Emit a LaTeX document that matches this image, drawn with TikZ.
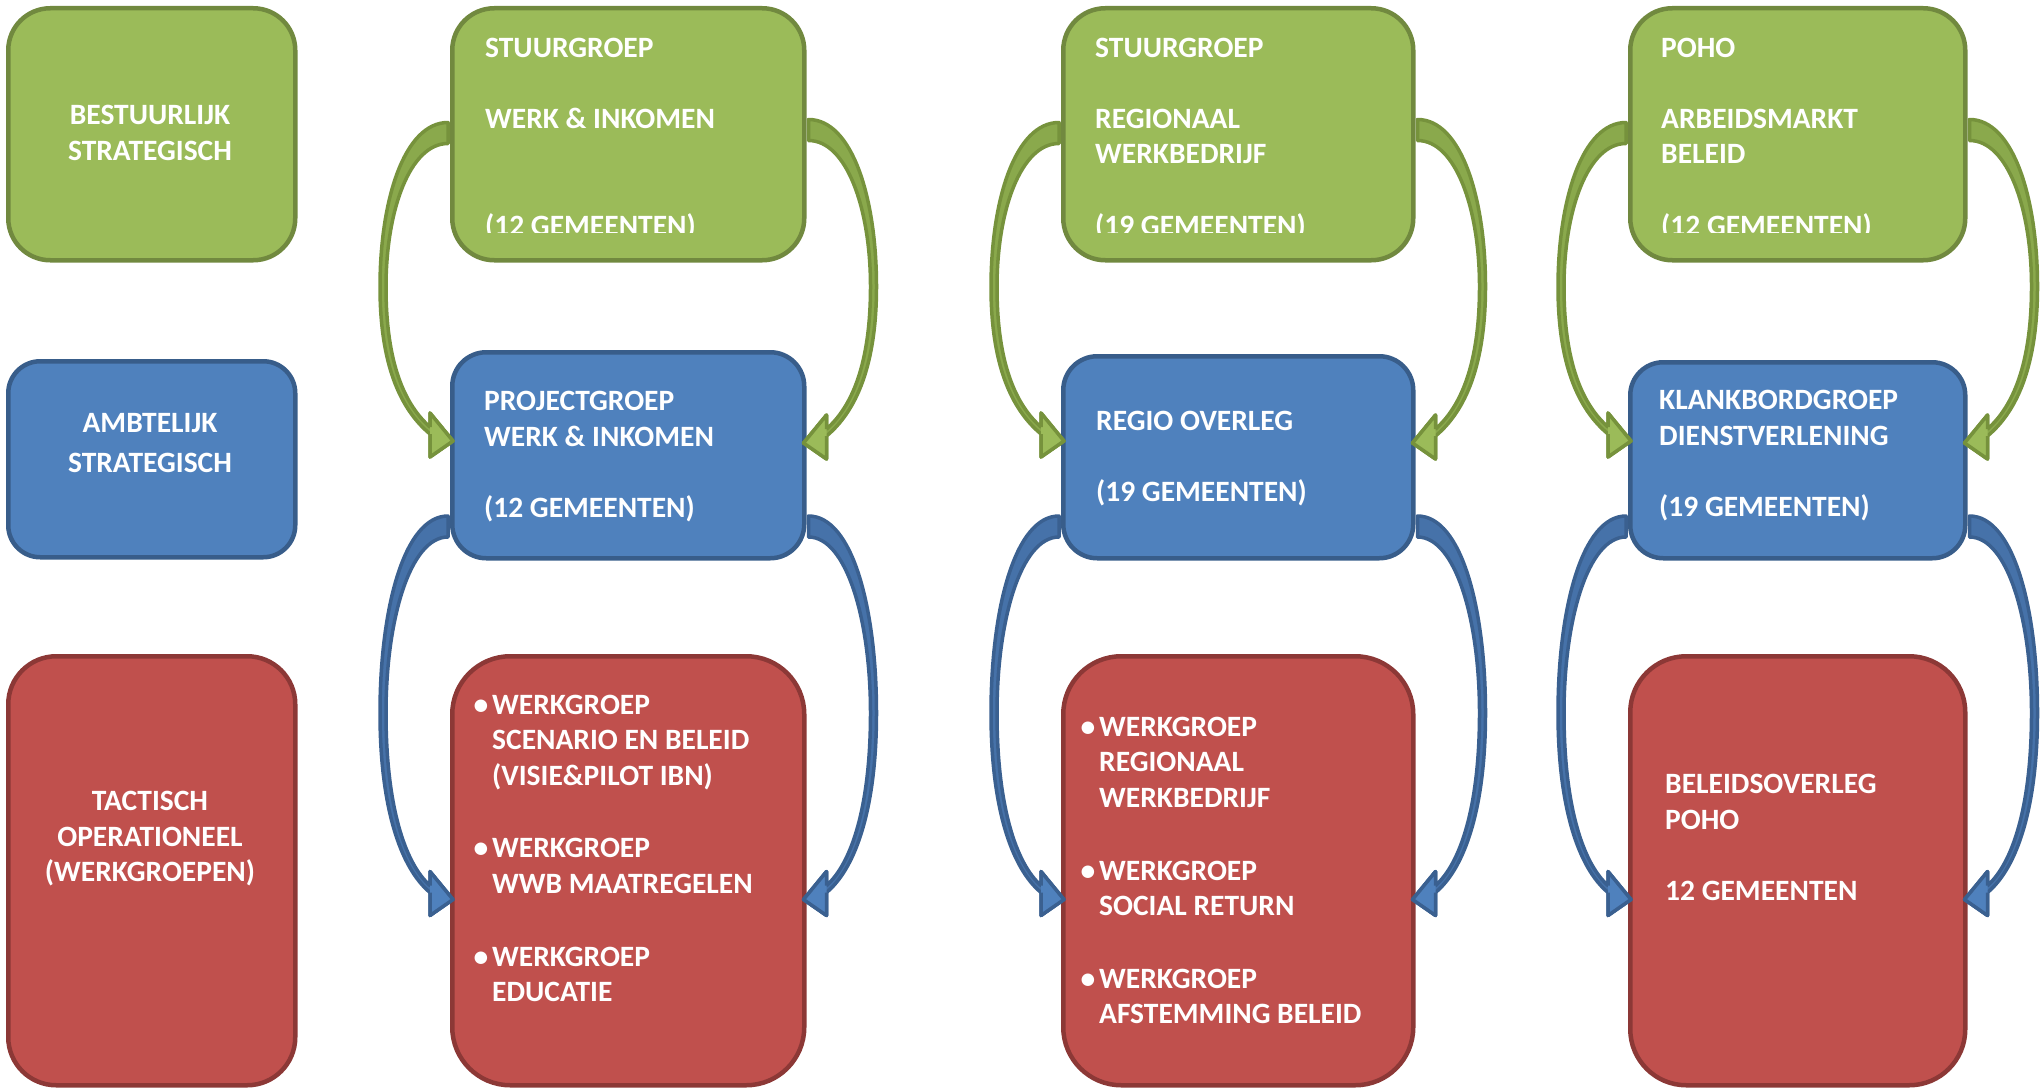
\documentclass[tikz,border=0pt]{standalone}
\usepackage{fontspec}
\setmainfont{Carlito}
\usetikzlibrary{calc}
\definecolor{gfill}{HTML}{9BBB59}
\definecolor{gline}{HTML}{71893F}
\definecolor{garr}{HTML}{76923C}
\definecolor{bfill}{HTML}{4F81BD}
\definecolor{bline}{HTML}{385D8A}
\definecolor{barr}{HTML}{3A6090}
\definecolor{rfill}{HTML}{C0504D}
\definecolor{rline}{HTML}{8C3836}
% #1 origin, #2 xscale (1 left, -1 right), #3 height, #4 body style, #5 head style
\newcommand\curvarr[5]{%
  \begin{scope}[shift={#1}, xscale=#2]
    \path[#4] (-2,-10.5) .. controls (-46,-10.5) and (-70,{0.22*#3}) .. (-70,{0.5*#3})
      .. controls (-70,{0.75*#3}) and (-50,{#3-32}) .. (-20,{#3-7})
      -- (-20,{#3+16}) -- (3,#3) -- (-20,{#3-28}) -- (-20,{#3-14})
      .. controls (-45,{#3-36}) and (-64,{0.75*#3}) .. (-64,{0.5*#3})
      .. controls (-64,{0.25*#3}) and (-40,10.5) .. (-2,10.5) -- cycle;
    \path[#5] (-20,{#3-7}) -- (-20,{#3+16}) -- (3,#3) -- (-20,{#3-28}) -- (-20,{#3-14});
  \end{scope}}
\begin{document}
\begin{tikzpicture}[x=1pt,y=-1pt,
  box/.style={draw, line width=4.5pt, inner sep=0pt, anchor=north west},
  gbox/.style={box, fill=gfill, draw=gline},
  bbox/.style={box, fill=bfill, draw=bline},
  rbox/.style={box, fill=rfill, draw=rline},
  txt/.style={text=white, inner sep=0pt, align=left, anchor=north west,
    font=\bfseries\fontsize{29.5}{35.6}\selectfont},
  ctxt/.style={txt, align=center, anchor=north},
  garrow/.style={fill=gfill!55!garr, draw=garr, line width=3.5pt, line join=round},
  ghead/.style={fill=gfill, draw=garr, line width=3.5pt, line join=round},
  barrow/.style={fill=bfill!55!barr, draw=barr, line width=3.5pt, line join=round},
  bhead/.style={fill=bfill, draw=barr, line width=3.5pt, line join=round}]
\useasboundingbox (0,0) rectangle (2040,1089);
% left column
\node[gbox, minimum width=287pt, minimum height=252pt, rounded corners=42pt] (L1) at (6,6) {};
\node[bbox, minimum width=287pt, minimum height=196pt, rounded corners=32pt] (L2) at (6,359) {};
\node[rbox, minimum width=287pt, minimum height=429pt, rounded corners=48pt] (L3) at (6,654) {};
% column 2
\node[gbox, minimum width=352pt, minimum height=252pt, rounded corners=42pt] (G2) at (450,6) {};
\node[bbox, minimum width=352pt, minimum height=206pt, rounded corners=34pt] (B2) at (450,350) {};
\node[rbox, minimum width=352pt, minimum height=429pt, rounded corners=58pt] (R2) at (450,654) {};
% column 3
\node[gbox, minimum width=350pt, minimum height=252pt, rounded corners=42pt] (G3) at (1061,6) {};
\node[bbox, minimum width=350pt, minimum height=202pt, rounded corners=34pt] (B3) at (1061,354) {};
\node[rbox, minimum width=350pt, minimum height=429pt, rounded corners=58pt] (R3) at (1061,654) {};
% column 4
\node[gbox, minimum width=335pt, minimum height=252pt, rounded corners=42pt] (G4) at (1628,6) {};
\node[bbox, minimum width=335pt, minimum height=196pt, rounded corners=33pt] (B4) at (1628,360) {};
\node[rbox, minimum width=335pt, minimum height=429pt, rounded corners=56pt] (R4) at (1628,654) {};
% arrows
\foreach \c in {2,3,4}{
  \curvarr{($(G\c.north west)+(0,127)$)}{1}{308}{garrow}{ghead}
  \curvarr{($(G\c.north east)+(0,124)$)}{-1}{313}{garrow}{ghead}
  \curvarr{($(B\c.south west)+(0,-34)$)}{1}{373}{barrow}{bhead}
  \curvarr{($(B\c.south east)+(0,-34)$)}{-1}{373}{barrow}{bhead}
}
% texts left column
\node[ctxt] (tL1) at (150,99.5) {\strut BESTUURLIJK\\STRATEGISCH};
\node[ctxt] (tL2) at (150,407.5) {\strut AMBTELIJK\\[4.4pt]STRATEGISCH};
\node[ctxt] (tL3) at (150,785.5) {\strut TACTISCH\\OPERATIONEEL\\(WERKGROEPEN)};
% green texts (clipped at the bottom of the text frame)
\begin{scope}
\clip (0,0) rectangle (2040,232);
\node[txt] (tG2) at (485,31.9) {\strut STUURGROEP\\[35.6pt]WERK \& INKOMEN\\[71.2pt](12 GEMEENTEN)};
\node[txt] (tG3) at (1095,31.9) {\strut STUURGROEP\\[35.6pt]REGIONAAL\\WERKBEDRIJF\\[35.6pt](19 GEMEENTEN)};
\node[txt] (tG4) at (1661,31.9) {\strut POHO\\[35.6pt]ARBEIDSMARKT\\BELEID\\[35.6pt](12 GEMEENTEN)};
\end{scope}
% blue texts
\node[txt] (tB2) at (484,385.5) {\strut PROJECTGROEP\\WERK \& INKOMEN\\[35.6pt](12 GEMEENTEN)};
\node[txt] (tB3) at (1096,405.3) {\strut REGIO OVERLEG\\[35.6pt](19 GEMEENTEN)};
\node[txt] (tB4) at (1659,384.5) {\strut KLANKBORDGROEP\\DIENSTVERLENING\\[35.6pt](19 GEMEENTEN)};
% red texts
\node[txt] (tR2) at (492,688.9) {\strut\llap{•\hspace{4pt}}WERKGROEP\\SCENARIO EN BELEID\\(VISIE\&PILOT IBN)\\[37pt]\llap{•\hspace{4pt}}WERKGROEP\\WWB MAATREGELEN\\[37pt]\llap{•\hspace{4pt}}WERKGROEP\\EDUCATIE};
\node[txt] (tR3) at (1099,711.1) {\strut\llap{•\hspace{4pt}}WERKGROEP\\REGIONAAL\\WERKBEDRIJF\\[37pt]\llap{•\hspace{4pt}}WERKGROEP\\SOCIAL RETURN\\[37pt]\llap{•\hspace{4pt}}WERKGROEP\\AFSTEMMING BELEID};
\node[txt] (tR4) at (1665,768.3) {\strut BELEIDSOVERLEG\\POHO\\[35.6pt]12 GEMEENTEN};
\end{tikzpicture}
\end{document}
